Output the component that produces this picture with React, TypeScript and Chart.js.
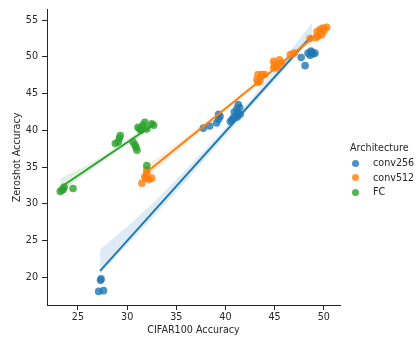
import React, { useEffect, useRef } from 'react';
import { Chart, registerables } from 'chart.js';

Chart.register(...registerables);

// ---- data ----
const conv256X = [27.1, 27.6, 27.3, 27.35, 37.75, 38.4, 39.1, 39.3, 39.45, 39.3, 40.5, 40.65, 40.8, 40.9, 41.1, 41.15, 41.3, 41.45, 41.5, 41.3, 41.2, 47.7, 48.1, 48.4, 48.7, 48.9, 48.6, 48.8, 49.1];
const conv256Y = [18.1, 18.2, 19.6, 19.8, 40.3, 40.6, 41.0, 41.5, 41.9, 42.2, 41.2, 41.4, 41.7, 42.5, 42.0, 42.9, 43.5, 43.1, 42.2, 42.3, 41.8, 49.9, 48.8, 50.5, 50.8, 50.4, 50.2, 50.6, 50.5];

const conv512X = [31.5, 31.8, 32.0, 32.2, 32.5, 32.0, 31.9, 43.2, 43.3, 43.3, 43.5, 43.7, 44.0, 44.9, 44.9, 45.0, 45.2, 45.5, 45.7, 45.4, 46.6, 47.0, 48.6, 49.3, 49.4, 49.6, 49.8, 49.9, 50.3, 50.0, 49.2];
const conv512Y = [32.8, 33.7, 34.2, 33.3, 33.5, 34.6, 33.5, 46.9, 46.5, 47.6, 46.7, 47.6, 47.6, 48.5, 49.4, 49.0, 48.5, 49.6, 49.2, 48.8, 50.3, 50.5, 52.5, 53.4, 52.8, 53.7, 53.0, 53.9, 54.0, 53.5, 52.6];

const fcX = [23.2, 23.5, 23.6, 23.4, 24.5, 28.8, 29.1, 29.3, 29.2, 30.6, 30.8, 31.0, 30.9, 31.1, 31.3, 31.6, 31.8, 32.0, 32.5, 32.7, 31.4, 32.0];
const fcY = [31.7, 32.0, 32.3, 31.9, 32.1, 38.2, 38.4, 39.3, 38.9, 38.4, 38.0, 37.3, 37.7, 40.4, 40.2, 40.7, 41.1, 40.2, 40.9, 40.7, 40.0, 35.2];

// regression fits
const conv256FitX = [27.25, 48.8];
const conv256FitY = [20.9, 52.9];
const conv512FitX = [31.66, 50.3];
const conv512FitY = [33.97, 54.1];
const fcFitX = [23.2, 32.7];
const fcFitY = [32.24, 40.8];

// confidence bands
const conv256BandX = [27.25, 30, 33, 36, 39, 42, 45, 48.8];
const conv256BandHi = [23.8, 26.9, 30.6, 34.7, 38.9, 43.3, 48.1, 54.6];
const conv256BandLo = [20.5, 24.4, 28.7, 33.1, 37.7, 42.3, 46.7, 52.5];
const conv512BandX = [31.6, 36, 40, 44, 47, 50.3];
const conv512BandHi = [34.8, 39.1, 43.2, 47.6, 50.9, 54.6];
const conv512BandLo = [33.1, 38.2, 42.7, 47.0, 50.2, 53.6];
const fcBandX = [23.2, 26, 29, 32.7];
const fcBandHi = [33.5, 35.3, 37.8, 41.3];
const fcBandLo = [31.6, 34.3, 37.2, 40.3];

const groupNames = ['conv256', 'conv512', 'FC'];
const xTicks = [25, 30, 35, 40, 45, 50];
const yTicks = [20, 25, 30, 35, 40, 45, 50, 55];

const RGB = ['31,119,180', '255,127,14', '44,160,44'];
const FONT = 'DejaVu Sans';
const TEXT = '#262626';
const FS = 9.6;

const pts = (xs: number[], ys: number[]) => xs.map((x, i) => ({ x, y: ys[i] }));

export default function App() {
  const ref = useRef<HTMLCanvasElement>(null);

  useEffect(() => {
    if (!ref.current) return;
    const groups = [
      { x: conv256X, y: conv256Y, fx: conv256FitX, fy: conv256FitY, bx: conv256BandX, bh: conv256BandHi, bl: conv256BandLo },
      { x: conv512X, y: conv512Y, fx: conv512FitX, fy: conv512FitY, bx: conv512BandX, bh: conv512BandHi, bl: conv512BandLo },
      { x: fcX, y: fcY, fx: fcFitX, fy: fcFitY, bx: fcBandX, bh: fcBandHi, bl: fcBandLo },
    ];
    const datasets: any[] = [];
    let ord = 100;
    groups.forEach((g, gi) => {
      const c = RGB[gi];
      datasets.push({
        label: groupNames[gi],
        data: pts(g.x, g.y),
        backgroundColor: `rgba(${c},0.8)`,
        borderWidth: 0,
        pointRadius: 3.8,
        order: ord--,
      });
      datasets.push({
        label: groupNames[gi] + ' lo',
        data: pts(g.bx, g.bl),
        showLine: true,
        borderWidth: 0,
        borderColor: 'rgba(0,0,0,0)',
        pointRadius: 0,
        fill: false,
        order: ord--,
      });
      datasets.push({
        label: groupNames[gi] + ' hi',
        data: pts(g.bx, g.bh),
        showLine: true,
        borderWidth: 0,
        borderColor: 'rgba(0,0,0,0)',
        backgroundColor: `rgba(${c},0.15)`,
        pointRadius: 0,
        fill: '-1',
        order: ord--,
      });
      datasets.push({
        label: groupNames[gi] + ' fit',
        data: pts(g.fx, g.fy),
        showLine: true,
        borderWidth: 1.9,
        borderColor: `rgb(${c})`,
        pointRadius: 0,
        fill: false,
        order: ord--,
      });
    });

    const chart = new Chart(ref.current, {
      type: 'scatter',
      data: { datasets },
      options: {
        animation: false,
        responsive: false,
        maintainAspectRatio: false,
        events: [],
        layout: { padding: { left: 0, right: 77, top: 5, bottom: 0 } },
        plugins: { legend: { display: false }, tooltip: { enabled: false } },
        scales: {
          x: {
            type: 'linear',
            min: 21.85,
            max: 51.65,
            afterBuildTicks: (s: any) => { s.ticks = xTicks.map((v) => ({ value: v })); },
            afterFit: (s: any) => { s.height = 32; },
            grid: { display: true, drawOnChartArea: false, drawTicks: true, tickLength: 5, tickColor: TEXT, color: TEXT },
            border: { display: true, color: TEXT, width: 1 },
            ticks: { color: TEXT, font: { family: FONT, size: FS }, padding: 2, maxRotation: 0 },
            title: { display: true, text: 'CIFAR100 Accuracy', color: TEXT, font: { family: FONT, size: FS }, padding: { top: 0, bottom: 1 } },
          },
          y: {
            type: 'linear',
            min: 16.25,
            max: 56.4,
            afterBuildTicks: (s: any) => { s.ticks = yTicks.map((v) => ({ value: v })); },
            afterFit: (s: any) => { s.width = 47; },
            grid: { display: true, drawOnChartArea: false, drawTicks: true, tickLength: 5, tickColor: TEXT, color: TEXT },
            border: { display: true, color: TEXT, width: 1 },
            ticks: { color: TEXT, font: { family: FONT, size: FS }, padding: 4 },
            title: { display: true, text: 'Zeroshot Accuracy', color: TEXT, font: { family: FONT, size: FS }, padding: { top: 12, bottom: 0 } },
          },
        },
      } as any,
    });
    return () => chart.destroy();
  }, []);

  const legendTop = [163.3, 177.6, 192];
  return (
    <div style={{ position: 'absolute', left: 0, top: 0, width: 417, height: 337, background: '#fff' }}>
      <canvas ref={ref} width={417} height={337} style={{ display: 'block', width: 417, height: 337 }} />
      <div style={{ position: 'absolute', left: 350, top: 148 - 7, fontFamily: FONT, fontSize: 9.6, color: TEXT, lineHeight: '14px', whiteSpace: 'nowrap' }}>
        Architecture
      </div>
      {groupNames.map((n, i) => (
        <div key={n}>
          <div style={{ position: 'absolute', left: 355 - 3.5, top: legendTop[i] - 3.5, width: 7, height: 7, borderRadius: '50%', background: `rgba(${RGB[i]},0.8)` }} />
          <div style={{ position: 'absolute', left: 373, top: legendTop[i] - 7, fontFamily: FONT, fontSize: FS, color: TEXT, lineHeight: '14px', whiteSpace: 'nowrap' }}>
            {n}
          </div>
        </div>
      ))}
    </div>
  );
}
